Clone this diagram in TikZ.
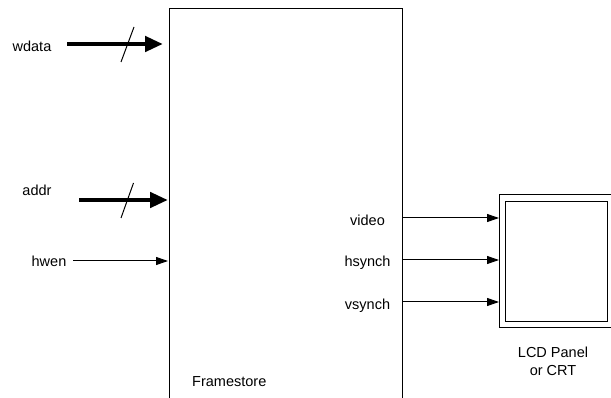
\documentclass[tikz,border=0pt]{standalone}
\usepackage{fontspec}
\setmainfont{Liberation Sans}
\usetikzlibrary{arrows.meta}
\begin{document}
\begin{tikzpicture}[x=1pt,y=-1pt,
  lbl/.style={font=\fontsize{14.5}{18}\selectfont, inner sep=0pt, anchor=base},
  bus/.style={line width=4.5pt, -{Triangle[length=18pt,width=15pt]}},
  sig/.style={line width=1pt, -{Triangle[length=12pt,width=8pt]}},
  slash/.style={line width=1pt},
  frame/.style={draw, line width=1.2pt, inner sep=0pt}]
\useasboundingbox (0,0) rectangle (611,398);
% Framestore box
\node[frame, minimum width=233pt, minimum height=410pt, anchor=north west] (fs) at (169,8) {};
\node[lbl, anchor=base west] (fslbl) at (192,386.5) {Framestore};
% LCD panel
\node[draw, line width=1pt, inner sep=0pt, minimum width=111.5pt, minimum height=133pt, anchor=north west] (lcd) at (499,194) {};
\node[draw, line width=1pt, inner sep=0pt, minimum width=102pt, minimum height=120pt, anchor=north west] (lcdin) at (505,201) {};
\node[lbl, align=center, anchor=base] (lcdlbl) at (553,375.7) {LCD Panel\\or CRT};
% input labels
\node[lbl] (wdata) at (32,51.5) {wdata};
\node[lbl] (addr) at (37,195.5) {addr};
\node[lbl] (hwen) at (49,267) {hwen};
% input connectors
\coordinate (wdS) at (67,44);
\coordinate (wdE) at (163,44);
\coordinate (adS) at (79,200);
\coordinate (adE) at (168,200);
\coordinate (hwS) at (73,261);
\coordinate (hwE) at (168,261);
\draw[bus] (wdS) -- (wdE);
\draw[bus] (adS) -- (adE);
\draw[sig] (hwS) -- (hwE);
\coordinate (s1a) at (121,62);
\coordinate (s1b) at (134,27);
\coordinate (s2a) at (121,218);
\coordinate (s2b) at (133.5,183);
\draw[slash] (s1a) -- (s1b);
\draw[slash] (s2a) -- (s2b);
% output labels
\node[lbl] (video) at (367.5,225.5) {video};
\node[lbl] (hsynch) at (367.5,267) {hsynch};
\node[lbl] (vsynch) at (367.5,309) {vsynch};
% output connectors
\draw[sig] (402,218) -- (lcd.west |- 0,218);
\draw[sig] (402,260) -- (lcd.west |- 0,260);
\draw[sig] (402,302) -- (lcd.west |- 0,302);
\end{tikzpicture}
\end{document}
